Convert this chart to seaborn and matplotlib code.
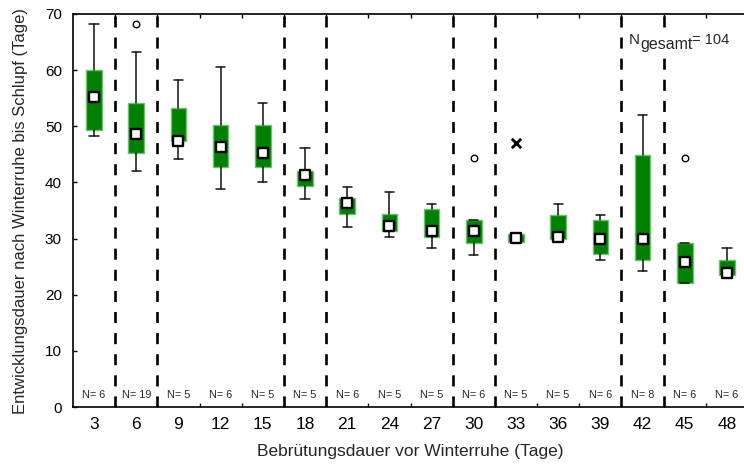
import matplotlib
matplotlib.use("Agg")
import matplotlib.pyplot as plt
import seaborn as sns
import pandas as pd

# ---- data ----
categories = [3, 6, 9, 12, 15, 18, 21, 24, 27, 30, 33, 36, 39, 42, 45, 48]
n_counts = [6, 19, 5, 6, 5, 5, 6, 5, 5, 6, 5, 5, 6, 8, 6, 6]
whisker_low = [48.3, 42.1, 44.2, 38.8, 40.1, 37.1, 32.1, 30.2, 28.3, 27.1, 29.4, 30.0, 26.2, 24.3, 22.1, 23.3]
q1 = [49.3, 45.3, 47.3, 42.7, 42.7, 39.4, 34.4, 31.3, 30.3, 29.3, 29.4, 30.0, 27.3, 26.1, 22.1, 23.5]
q3 = [60.1, 54.2, 53.3, 50.2, 50.2, 42.1, 37.2, 34.3, 35.2, 33.3, 30.8, 34.2, 33.3, 44.9, 29.3, 26.2]
whisker_high = [68.2, 63.2, 58.2, 60.6, 54.1, 46.1, 39.2, 38.3, 36.1, 33.3, 30.8, 36.2, 34.2, 52.0, 29.3, 28.3]
median = [55.3, 48.7, 47.4, 46.3, 45.2, 41.3, 36.3, 32.3, 31.3, 31.3, 30.1, 30.3, 29.9, 29.9, 25.9, 23.8]
outlier_cat = [6, 30, 45]
outlier_val = [68.2, 44.3, 44.3]
extreme_cat = [33]
extreme_val = [47.1]
separator_after = [3, 6, 15, 18, 27, 30, 39, 42]
n_total = 104

sns.set_theme(style="ticks")
plt.rcParams["font.family"] = ["Liberation Sans", "DejaVu Sans"]

fig = plt.figure(figsize=(7.44, 4.65), dpi=100)
ax = fig.add_axes([73 / 744, 58 / 465, 675 / 744, 393 / 465])

idx = {c: i for i, c in enumerate(categories)}

stats = []
for i, c in enumerate(categories):
    stats.append(dict(med=median[i], q1=q1[i], q3=q3[i],
                      whislo=whisker_low[i], whishi=whisker_high[i],
                      fliers=[], label=str(c)))

ax.bxp(stats, positions=list(range(len(categories))), widths=0.37,
       patch_artist=True, showfliers=False,
       boxprops=dict(facecolor="#008000", edgecolor="#6fbf6f", linewidth=1.0),
       whiskerprops=dict(color="#111111", linewidth=1.1),
       capprops=dict(color="#111111", linewidth=1.1),
       medianprops=dict(color="#008000", linewidth=0),
       capwidths=0.22, zorder=3)

df_med = pd.DataFrame({"pos": list(range(len(categories))), "median": median})
sns.scatterplot(data=df_med, x="pos", y="median", marker="s", s=62,
                facecolor="white", edgecolor="black", linewidth=1.7,
                ax=ax, zorder=5, legend=False)

df_out = pd.DataFrame({"pos": [idx[c] for c in outlier_cat], "val": outlier_val})
sns.scatterplot(data=df_out, x="pos", y="val", marker="o", s=22,
                facecolor="white", edgecolor="black", linewidth=1.0,
                ax=ax, zorder=5, legend=False)

df_ext = pd.DataFrame({"pos": [idx[c] for c in extreme_cat], "val": extreme_val})
sns.scatterplot(data=df_ext, x="pos", y="val", marker="x", s=45,
                color="black", linewidth=2.0, ax=ax, zorder=5, legend=False)

for c in separator_after:
    ax.axvline(idx[c] + 0.5, color="black", linewidth=1.9,
               linestyle=(0, (4.2, 3.8)), zorder=2)

for i, n in enumerate(n_counts):
    ax.text(i, 2.2, f"N= {n}", ha="center", va="center", fontsize=7.8)

# N_gesamt annotation built from pieces
wbg = dict(facecolor="white", edgecolor="none", pad=0.5)
t1 = ax.text(12.68, 64.6, "N", ha="left", va="baseline", fontsize=11, zorder=6)
t2 = ax.annotate("gesamt", xy=(1, 0), xycoords=t1, xytext=(0.3, -1.3),
                 textcoords="offset points", ha="left", va="baseline",
                 fontsize=11.5, bbox=wbg, zorder=6)
ax.annotate("= " + str(n_total), xy=(1, 0), xycoords=t2, xytext=(-0.5, 6.0),
            textcoords="offset points", ha="left", va="baseline",
            fontsize=10.5, zorder=6)

ax.set_xlim(-0.5, len(categories) - 0.5)
ax.set_ylim(0, 70)
ax.set_yticks(range(0, 71, 10))
ax.set_xticks(range(len(categories)))
ax.set_xticklabels([str(c) for c in categories])
ax.set_xticks([i + 0.5 for i in range(len(categories) - 1)], minor=True)

ax.tick_params(axis="x", which="major", length=0, pad=7, labelsize=12.5, colors="black")
ax.tick_params(axis="x", which="minor", direction="in", length=3, width=1,
               top=True, bottom=True, color="black")
ax.tick_params(axis="y", which="major", direction="in", length=3, width=1,
               pad=8, labelsize=11, colors="black")

for side in ["left", "bottom", "top", "right"]:
    ax.spines[side].set_visible(True)
    ax.spines[side].set_linewidth(1.2)
    ax.spines[side].set_color("black")

ax.set_xlabel("Bebrütungsdauer vor Winterruhe (Tage)", fontsize=12.5, labelpad=9)
ax.set_ylabel("Entwicklungsdauer nach Winterruhe bis Schlupf (Tage)", fontsize=12, labelpad=12)
ax.grid(False)

fig.savefig("out.png", dpi=100)
